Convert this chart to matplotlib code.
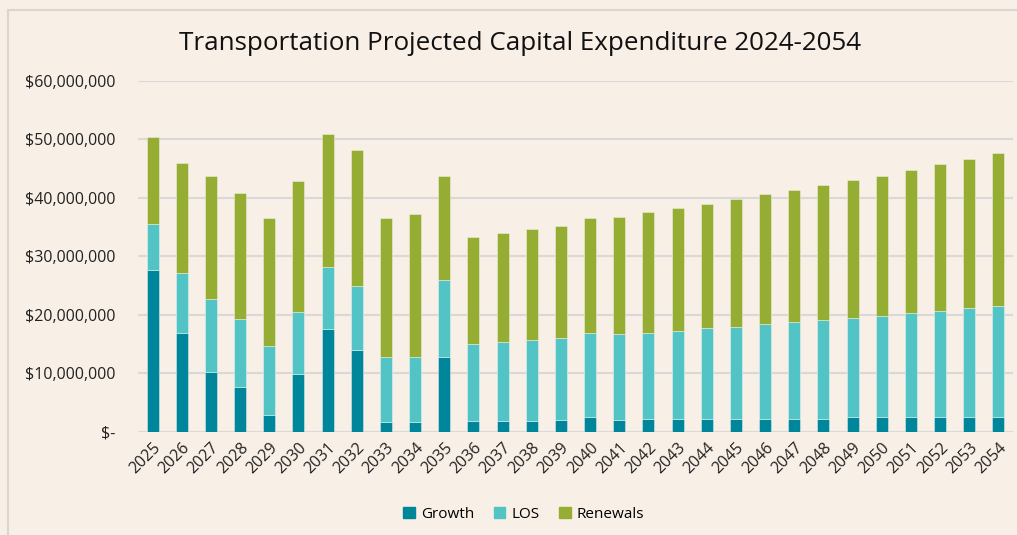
import matplotlib.pyplot as plt
import matplotlib.ticker as mticker
from matplotlib.patches import Rectangle, Patch
import numpy as np

years = [str(y) for y in range(2025, 2055)]

# values in $M
growth = [27.6, 16.8, 10.2, 7.65, 2.8, 9.9, 17.5, 14.0, 1.66, 1.66,
          12.8, 1.83, 1.83, 1.83, 2.0, 2.5, 1.95, 2.1, 2.1, 2.1,
          2.1, 2.2, 2.2, 2.2, 2.4, 2.4, 2.4, 2.5, 2.5, 2.5]
los = [8.0, 10.3, 12.5, 11.65, 11.9, 10.6, 10.6, 10.9, 11.04, 11.14,
       13.1, 13.17, 13.57, 13.87, 14.0, 14.3, 14.75, 14.8, 15.1, 15.6,
       15.8, 16.2, 16.5, 16.9, 17.1, 17.4, 17.8, 18.2, 18.6, 19.0]
renewals = [14.8, 18.9, 21.0, 21.5, 21.9, 22.4, 22.9, 23.3, 23.9, 24.5,
            17.8, 18.3, 18.6, 19.0, 19.2, 19.8, 20.1, 20.6, 21.0, 21.2,
            21.9, 22.2, 22.6, 23.1, 23.5, 24.0, 24.6, 25.1, 25.5, 26.1]

bg = "#F8EFE6"
c_growth = "#00869A"
c_los = "#52C4C5"
c_ren = "#95AD33"

plt.rcParams['font.family'] = ['Open Sans', 'DejaVu Sans']

fig = plt.figure(figsize=(10.17, 5.35), dpi=100)
fig.patch.set_facecolor(bg)

# chart frame (runs off the right/bottom edge like the reference)
fig.add_artist(Rectangle((8 / 1017, -0.05), 1.2, 1 - 10 / 535 + 0.05,
                         transform=fig.transFigure, fill=False,
                         edgecolor="#D9D5D0", linewidth=1.5))

ax = fig.add_axes([138 / 1017, 1 - 431.5 / 535, 875 / 1017, 350.5 / 535])
ax.set_facecolor(bg)

x = np.arange(len(years))
g = np.array(growth) * 1e6
l = np.array(los) * 1e6
r = np.array(renewals) * 1e6
w = 0.41
ec = (1, 1, 1, 0.45)
ax.bar(x, g, w, color=c_growth, edgecolor=ec, linewidth=0.6, zorder=3)
ax.bar(x, l, w, bottom=g, color=c_los, edgecolor=ec, linewidth=0.6, zorder=3)
ax.bar(x, r, w, bottom=g + l, color=c_ren, edgecolor=ec, linewidth=0.6, zorder=3)

ax.set_xlim(-0.5, len(years) - 0.5)
ax.set_ylim(0, 60e6)
ax.yaxis.set_major_locator(mticker.MultipleLocator(10e6))
ax.yaxis.set_major_formatter(mticker.FuncFormatter(
    lambda v, p: "$-" if v == 0 else f"${v:,.0f}"))
ax.grid(axis='y', color="#D9D9D9", linewidth=1.5, zorder=0)
ax.set_axisbelow(True)
for s in ax.spines.values():
    s.set_visible(False)
ax.tick_params(axis='both', length=0, labelsize=11.5, colors="#222222")
ax.tick_params(axis='y', pad=16)
ax.set_xticks(x)
ax.set_xticklabels(years, rotation=45, ha='right', rotation_mode='anchor')
ax.tick_params(axis='x', pad=6)

fig.text(0.511, 1 - 44 / 535, "Transportation Projected Capital Expenditure 2024-2054",
         ha='center', va='center', fontsize=18.7, color="#111111")

handles = [Patch(color=c_growth), Patch(color=c_los), Patch(color=c_ren)]
fig.legend(handles, ["Growth", "LOS", "Renewals"], loc='center',
           bbox_to_anchor=(0.515, 1 - 514 / 535), ncol=3, frameon=False,
           fontsize=11, handlelength=0.75, handleheight=0.75,
           handletextpad=0.4, columnspacing=1.3)

fig.savefig("out.png", dpi=100, facecolor=bg)
